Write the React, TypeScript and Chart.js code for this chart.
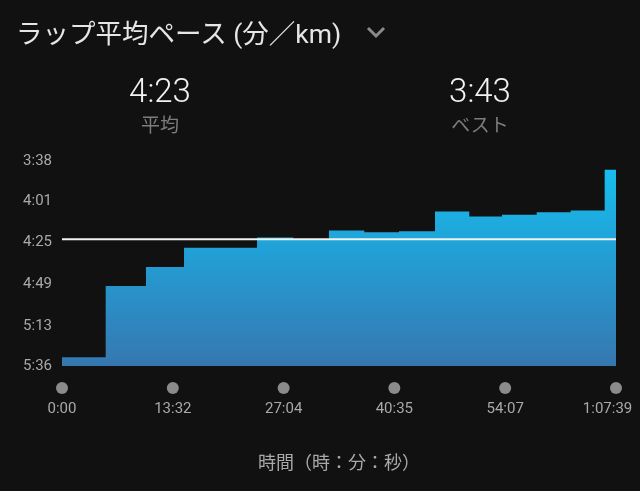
import React, { useEffect, useRef } from "react";
import { Chart, registerables } from "chart.js";

Chart.register(...registerables);

// Lap start times (seconds) and lap pace (seconds per km)
const lapStartSeconds = [0, 320, 615, 894, 1429, 1695, 1956, 2215, 2469, 2733, 2984, 3224, 3478, 3727, 3976];
const lapPaceSeconds = [331, 290, 279, 268, 262, 263, 258, 259, 258.5, 247, 250, 249, 247.5, 246.5, 223];
const totalSeconds = 4059;
const averagePace = 263;
const bestPace = 223;
const yTickValues = [218, 241, 265, 289, 313, 336];
const xTickValues = [0, 812, 1624, 2435, 3247, 4059];

const titleText = "ラップ平均ペース (分／km)";
const averageLabel = "平均";
const bestLabel = "ベスト";
const xAxisTitle = "時間（時：分：秒）";

const pad2 = (n: number) => (n < 10 ? "0" + n : "" + n);
const fmtPace = (v: number) => {
  const s = Math.round(v);
  return `${Math.floor(s / 60)}:${pad2(s % 60)}`;
};
const fmtTime = (v: number) => {
  const s = Math.round(v);
  const h = Math.floor(s / 3600);
  const m = Math.floor((s % 3600) / 60);
  const sec = s % 60;
  return h > 0 ? `${h}:${pad2(m)}:${pad2(sec)}` : `${m}:${pad2(sec)}`;
};

const tickDots = {
  id: "tickDots",
  afterDraw(chart: any) {
    const x = chart.scales.x;
    const ctx = chart.ctx;
    ctx.save();
    ctx.fillStyle = "#8b8b8b";
    x.ticks.forEach((t: any) => {
      const px = x.getPixelForValue(t.value);
      ctx.beginPath();
      ctx.arc(px, x.top + 22, 6, 0, Math.PI * 2);
      ctx.fill();
    });
    ctx.restore();
  },
};

export default function App() {
  const canvasRef = useRef<HTMLCanvasElement | null>(null);

  useEffect(() => {
    document.body.style.margin = "0";
    document.body.style.background = "#111111";
    const canvas = canvasRef.current;
    if (!canvas) return;

    const areaData = lapStartSeconds.map((t, i) => ({ x: t, y: lapPaceSeconds[i] }));
    areaData.push({ x: totalSeconds, y: lapPaceSeconds[lapPaceSeconds.length - 1] });

    const chart = new Chart(canvas, {
      type: "line",
      data: {
        datasets: [
          {
            label: "avg",
            data: [
              { x: 0, y: averagePace },
              { x: totalSeconds, y: averagePace },
            ],
            borderColor: "#f2f2f2",
            borderWidth: 2,
            pointRadius: 0,
            fill: false,
            order: 0,
          },
          {
            label: "pace",
            data: areaData,
            stepped: true,
            borderWidth: 0,
            borderColor: "rgba(0,0,0,0)",
            pointRadius: 0,
            fill: "start",
            order: 1,
            backgroundColor: (ctx: any) => {
              const { chart: c } = ctx;
              const area = c.chartArea;
              if (!area) return "#2196d0";
              const g = c.ctx.createLinearGradient(0, area.top, 0, area.bottom);
              g.addColorStop(0, "#17c0f0");
              g.addColorStop(0.4, "#20a3d8");
              g.addColorStop(1, "#3677b0");
              return g;
            },
          },
        ],
      },
      options: {
        animation: false,
        responsive: false,
        maintainAspectRatio: false,
        layout: { padding: { top: 161, right: 24, left: 0, bottom: 0 } },
        plugins: {
          legend: { display: false },
          tooltip: { enabled: false },
        },
        scales: {
          x: {
            type: "linear",
            min: 0,
            max: totalSeconds,
            grid: { display: false, drawTicks: false },
            border: { display: false },
            afterBuildTicks: (s: any) => {
              s.ticks = xTickValues.map((v) => ({ value: v }));
            },
            afterFit: (s: any) => {
              s.height = 125;
              s.paddingLeft = 0;
              s.paddingRight = 0;
            },
            ticks: {
              color: "#a9a9a9",
              font: { family: "Roboto", size: 15 },
              padding: 34,
              maxRotation: 0,
              autoSkip: false,
              callback: (v: any, i: number) =>
                i === xTickValues.length - 1 ? fmtTime(Number(v)) + "\u2007\u2007" : fmtTime(Number(v)),
            },
            title: {
              display: true,
              text: xAxisTitle,
              color: "#a9a9a9",
              font: { family: "'Noto Sans CJK JP'", size: 18 },
              padding: { top: 0, bottom: 18 },
            },
          },
          y: {
            type: "linear",
            reverse: true,
            min: yTickValues[0],
            max: yTickValues[yTickValues.length - 1],
            grid: { display: false, drawTicks: false },
            border: { display: false },
            afterBuildTicks: (s: any) => {
              s.ticks = yTickValues.map((v) => ({ value: v }));
            },
            afterFit: (s: any) => {
              s.width = 62;
            },
            ticks: {
              color: "#a9a9a9",
              font: { family: "Roboto", size: 15 },
              padding: 10,
              callback: (v: any) => fmtPace(Number(v)),
            },
          },
        },
      },
      plugins: [tickDots],
    } as any);

    return () => chart.destroy();
  }, []);

  return (
    <div style={{ position: "relative", width: 640, height: 491, background: "#111111", overflow: "hidden" }}>
      <canvas ref={canvasRef} width={640} height={491} style={{ position: "absolute", left: 0, top: 0, display: "block" }} />
      <div
        style={{
          position: "absolute",
          left: 16,
          top: 19,
          fontFamily: "Roboto, 'Noto Sans CJK JP', sans-serif",
          fontSize: 26.5,
          lineHeight: "30px",
          color: "#e6e6e6",
          whiteSpace: "nowrap",
        }}
      >
        {titleText}
      </div>
      <svg width={640} height={60} style={{ position: "absolute", left: 0, top: 0 }}>
        <polyline points="368,28 376,36 384,28" fill="none" stroke="#8a8a8a" strokeWidth={3} />
      </svg>
      {[
        { cx: 160, value: fmtPace(averagePace), label: averageLabel },
        { cx: 480, value: fmtPace(bestPace), label: bestLabel },
      ].map((s) => (
        <React.Fragment key={s.label}>
          <div
            style={{
              position: "absolute",
              left: s.cx - 100,
              width: 200,
              top: 71,
              textAlign: "center",
              fontFamily: "Roboto, sans-serif",
              fontWeight: 300,
              fontSize: 33,
              lineHeight: "40px",
              color: "#f2f2f2",
            }}
          >
            {s.value}
          </div>
          <div
            style={{
              position: "absolute",
              left: s.cx - 100,
              width: 200,
              top: 112,
              textAlign: "center",
              fontFamily: "'Noto Sans CJK JP', sans-serif",
              fontSize: 19,
              lineHeight: "24px",
              color: "#7c7c7c",
            }}
          >
            {s.label}
          </div>
        </React.Fragment>
      ))}
    </div>
  );
}
